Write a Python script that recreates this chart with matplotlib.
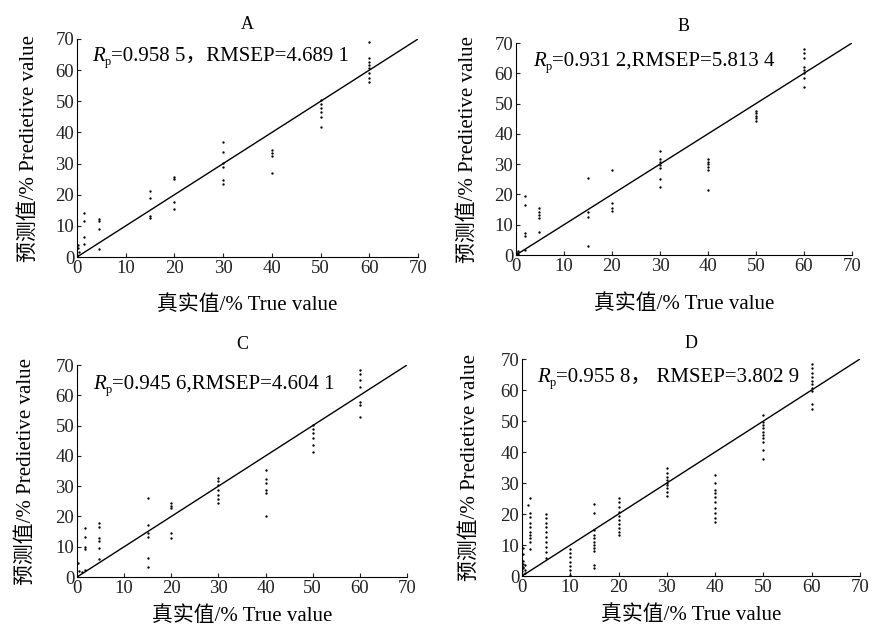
import numpy as np
import matplotlib
matplotlib.use("Agg")
import matplotlib.pyplot as plt

plt.rcParams['font.family'] = ['Liberation Serif', 'Noto Sans CJK SC']
plt.rcParams['font.size'] = 10.5

# 真实值 (true) 和每组的预测值 (predicted)
a_true = [0, 0.3, 0.5, 1.5, 4.5, 15, 20, 30, 40, 50, 60]
a_pred = [[0.3, 0.8], [2.8, 4.0], [1.5], [14.0, 11.7, 6.3, 4.1],
          [12.1, 11.7, 8.9, 2.6], [21.2, 18.8, 13.2, 12.4],
          [25.8, 24.9, 17.8, 15.4], [37.0, 33.8, 30.1, 29.0, 24.7, 23.4],
          [34.4, 33.5, 32.5, 27.1], [50.4, 49.1, 47.8, 46.4, 44.9, 41.9],
          [68.9, 63.8, 62.7, 61.7, 60.6, 59.2, 57.4, 56.3]]

b_true = [0, 0.5, 1.8, 4.9, 15, 20, 30, 40, 50, 60]
b_pred = [[0.2, 0.6, 1.0], [0.4, 1.3], [19.6, 16.5, 7.2, 6.4, 1.6],
          [15.4, 14.3, 13.2, 12.1, 7.5], [25.5, 14.3, 12.4, 3.0],
          [28.1, 17.1, 15.6, 14.6], [34.3, 31.7, 30.8, 29.7, 28.6, 25.1, 22.6],
          [31.7, 30.8, 29.9, 29.0, 28.2, 21.5], [47.5, 46.8, 46.0, 45.1, 44.2],
          [68.0, 66.6, 65.1, 62.2, 61.1, 60.0, 58.5, 55.6]]

c_true = [0, 0.2, 0.5, 1.0, 1.7, 4.7, 15, 20, 30, 40, 50, 60]
c_pred = [[0.2], [4.5], [2.0], [1.5], [16.1, 13.1, 10.0, 9.2, 2.3],
          [17.7, 16.6, 13.0, 11.9, 9.7, 5.9], [26.0, 17.2, 14.4, 13.3, 6.2, 3.4],
          [24.3, 23.5, 22.7, 14.4, 12.8], [32.8, 31.7, 30.4, 28.7, 27.1, 25.7, 24.3],
          [35.3, 32.3, 30.9, 28.7, 27.6, 20.2], [50.2, 48.8, 47.4, 45.8, 43.6, 41.4],
          [68.3, 67.2, 65.0, 62.6, 57.9, 56.8, 52.9]]

d_true = [0, 0.3, 0.6, 1.3, 1.7, 5, 10, 15, 20, 30, 40, 50, 60]
d_pred = [[0.3, 0.8, 1.5], [9.0, 7.0, 5.0, 4.0, 3.0, 2.5], [1.0, 2.0, 3.5],
          [22.8], [25.3, 20.2, 19.1, 17.0, 15.9, 14.3, 13.2, 12.2, 11.1, 8.6],
          [19.9, 18.6, 17.2, 15.9, 14.3, 12.7, 11.1, 9.5, 7.8, 5.7],
          [8.6, 7.3, 6.0, 4.6, 3.2, 1.9, 0.3],
          [23.2, 20.4, 14.8, 13.2, 12.2, 11.1, 10.0, 8.9, 8.1, 3.5, 2.5],
          [25.3, 24.0, 22.4, 20.8, 19.4, 18.1, 16.8, 15.4, 14.3, 13.2],
          [34.7, 33.3, 32.0, 31.0, 30.1, 29.4, 28.3, 27.2, 25.9],
          [32.6, 29.9, 27.7, 26.7, 25.6, 24.0, 21.8, 20.2, 18.6, 17.5],
          [51.9, 49.8, 48.7, 47.6, 46.6, 45.5, 44.4, 43.3, 40.6, 37.9],
          [68.4, 67.0, 65.6, 64.3, 63.0, 61.8, 60.8, 59.7, 55.4, 53.8]]

titles = ['A', 'B', 'C', 'D']
rest_txt = ['=0.958 5，RMSEP=4.689 1', '=0.931 2,RMSEP=5.813 4',
            '=0.945 6,RMSEP=4.604 1', '=0.955 8， RMSEP=3.802 9']

# 轴的位置 (像素换算)
positions = [[0.0883, 0.5901, 0.3911, 0.3477],
             [0.5917, 0.5933, 0.3853, 0.3381],
             [0.0883, 0.0797, 0.3784, 0.3381],
             [0.5986, 0.0813, 0.3876, 0.3461]]
title_pad = [7, 9, 11.5, 8]
xlab_pad = [13, 14, 7, 7]
ylab_pad = [12, 12, 14, 15]
note_x = [0.044, 0.05, 0.048, 0.045]
note_y = [0.875, 0.87, 0.865, 0.87]

fig = plt.figure(figsize=(8.72, 6.27), dpi=100)

datasets = [(a_true, a_pred), (b_true, b_pred), (c_true, c_pred), (d_true, d_pred)]
for i, (tv, pv) in enumerate(datasets):
    ax = fig.add_axes(positions[i])
    xs = np.concatenate([[t] * len(p) for t, p in zip(tv, pv)])
    ys = np.concatenate(pv)
    ax.plot([0, 70], [0, 70], color='black', lw=1.0)
    ax.plot(xs, ys, 'o', color='black', ms=1.7, mew=0)
    ax.set_xlim(0, 70)
    ax.set_ylim(0, 70)
    ax.set_xticks(range(0, 71, 10))
    ax.set_yticks(range(0, 71, 10))
    ax.spines['top'].set_visible(False)
    ax.spines['right'].set_visible(False)
    ax.tick_params(direction='in', length=3, width=0.8, labelsize=13.5, pad=2,
                   colors='#222222')
    ax.set_title(titles[i], fontsize=13, pad=title_pad[i])
    ax.set_xlabel('真实值/% True value', fontsize=15, labelpad=xlab_pad[i])
    ax.set_ylabel('预测值/% Predietive value', fontsize=15, labelpad=ylab_pad[i])

    # R_p 注释
    t1 = ax.text(note_x[i], note_y[i], 'R', transform=ax.transAxes, fontsize=15,
                 style='italic', va='bottom', ha='left')
    tp = ax.annotate('p', xy=(1, 0), xycoords=t1, xytext=(0, -1.5),
                     textcoords='offset points', fontsize=9, va='bottom',
                     ha='left')
    ax.annotate(rest_txt[i], xy=(1, 0), xycoords=(tp, t1), fontsize=15,
                va='bottom', ha='left')

plt.savefig('out.png', dpi=100)
